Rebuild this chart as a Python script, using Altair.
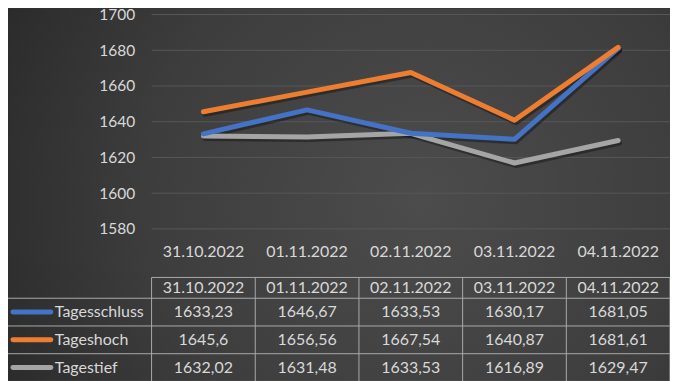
import altair as alt
import pandas as pd

dates = ["31.10.2022", "01.11.2022", "02.11.2022", "03.11.2022", "04.11.2022"]
series = ["Tagesschluss", "Tageshoch", "Tagestief"]
tagesschluss = [1633.23, 1646.67, 1633.53, 1630.17, 1681.05]
tageshoch = [1645.6, 1656.56, 1667.54, 1640.87, 1681.61]
tagestief = [1632.02, 1631.48, 1633.53, 1616.89, 1629.47]
colors = ["#4472C4", "#ED7D31", "#A5A5A5"]
y_ticks = [1580, 1600, 1620, 1640, 1660, 1680, 1700]

FONT = "Lato"
FS = 16
TXT = "#d9d9d9"
LINE = "#a9a9a9"

values = [tagesschluss, tageshoch, tagestief]
rows = []
for r, (s, vals) in enumerate(zip(series, values)):
    for i, (d, v) in enumerate(zip(dates, vals)):
        rows.append(dict(series=s, row=r, i=i, date=d, value=v,
                         label=str(v).replace(".", ","), ty=1.25 + r))
df = pd.DataFrame(rows)

hdr = pd.DataFrame([dict(i=i, date=d, ty=0.375) for i, d in enumerate(dates)])
axis_lbl = pd.DataFrame([dict(i=i, date=d, ty=-0.9) for i, d in enumerate(dates)])
leg = pd.DataFrame([dict(series=s, ty=1.25 + r, color=c)
                    for r, (s, c) in enumerate(zip(series, colors))])
grid_df = pd.DataFrame({"value": y_ticks})

xscale = alt.Scale(domain=[-0.5, len(dates) - 0.5], nice=False)
X = alt.X("i:Q", scale=xscale, axis=None)

# background
bg = alt.Chart(alt.Data(values=[{}])).mark_rect(
    fill=alt.Gradient(
        gradient="radial",
        stops=[alt.GradientStop(color="#4c4c4c", offset=0),
               alt.GradientStop(color="#3d3d3d", offset=0.55),
               alt.GradientStop(color="#272727", offset=1)],
        x1=0.62, y1=0.5, r1=0, x2=0.62, y2=0.5, r2=0.75,
    )
).encode(x=alt.value(-144), x2=alt.value(526), y=alt.value(-6), y2=alt.value(372))

# price lines
yscale = alt.Scale(domain=[1580, 1700], range=[215, 0], nice=False, zero=False)
Yp = alt.Y("value:Q", scale=yscale,
           axis=alt.Axis(values=y_ticks, grid=False, zindex=1, format="d",
                         domain=False, ticks=False, labelPadding=17, title=None,
                         labelFont=FONT, labelFontSize=15.5, labelColor=TXT))

grid = alt.Chart(grid_df).mark_rule(color="#575757", strokeWidth=1).encode(
    y=Yp, x=alt.value(0), x2=alt.value(520))

price_layers = [grid]
order = [2, 0, 1]
for k in order:
    s = series[k]
    base = alt.Chart(df[df.series == s])
    price_layers.append(
        base.mark_line(color="black", opacity=0.35, strokeWidth=5, strokeCap="round",
                       strokeJoin="round", xOffset=1.5, yOffset=2.5).encode(x=X, y=Yp)
    )
for k in order:
    s = series[k]
    base = alt.Chart(df[df.series == s])
    price_layers.append(
        base.mark_line(color=colors[k], strokeWidth=5, strokeCap="round",
                       strokeJoin="round").encode(x=X, y=Yp)
    )
price = alt.layer(*price_layers)

# table
tscale = alt.Scale(domain=[0, 3.75], range=[263.7, 368], nice=False, zero=False)
Yt = alt.Y("ty:Q", scale=tscale, axis=None)

txt_kw = dict(font=FONT, fontSize=FS, color=TXT, baseline="middle")

date_axis = alt.Chart(axis_lbl).mark_text(align="center", **txt_kw).encode(
    x=X, y=Yt, text="date:N")
header = alt.Chart(hdr).mark_text(align="center", **txt_kw).encode(
    x=X, y=Yt, text="date:N")
cells = alt.Chart(df).mark_text(align="center", **txt_kw).encode(
    x=X, y=Yt, text="label:N")
swatch = alt.Chart(leg).mark_rule(strokeWidth=5, strokeCap="round").encode(
    x=alt.value(-139), x2=alt.value(-101), y=Yt,
    color=alt.Color("color:N", scale=None))
leg_txt = alt.Chart(leg).mark_text(align="left", **txt_kw).encode(
    x=alt.value(-97), y=Yt, text="series:N")

hl_top = pd.DataFrame([dict(ty=0.0)])
hl_full = pd.DataFrame([dict(ty=v) for v in [0.75, 1.75, 2.75, 3.75]])
vl_cols = pd.DataFrame([dict(i=i - 0.5, ty=0.0, ty2=3.75) for i in range(len(dates) + 1)])
vl_left = pd.DataFrame([dict(ty=0.75, ty2=3.75)])

rule_kw = dict(color=LINE, strokeWidth=1)
h1 = alt.Chart(hl_top).mark_rule(**rule_kw).encode(
    x=alt.value(0), x2=alt.value(520), y=Yt)
h2 = alt.Chart(hl_full).mark_rule(**rule_kw).encode(
    x=alt.value(-144.5), x2=alt.value(520), y=Yt)
v1 = alt.Chart(vl_cols).mark_rule(**rule_kw).encode(
    x=X, y=Yt, y2="ty2:Q")
v2 = alt.Chart(vl_left).mark_rule(**rule_kw).encode(
    x=alt.value(-144.5), y=Yt, y2="ty2:Q")

table = alt.layer(h1, h2, v1, v2, swatch, date_axis, header, cells, leg_txt)

chart = alt.layer(bg, price, table).resolve_scale(y="independent").properties(
    width=520, height=368,
    autosize=alt.AutoSizeParams(type="none"),
    padding={"left": 144, "top": 6, "right": 0, "bottom": 0},
    background="#333333",
).configure_view(stroke=None)

chart.save("out.html", embed_options={"renderer": "svg", "actions": False})
